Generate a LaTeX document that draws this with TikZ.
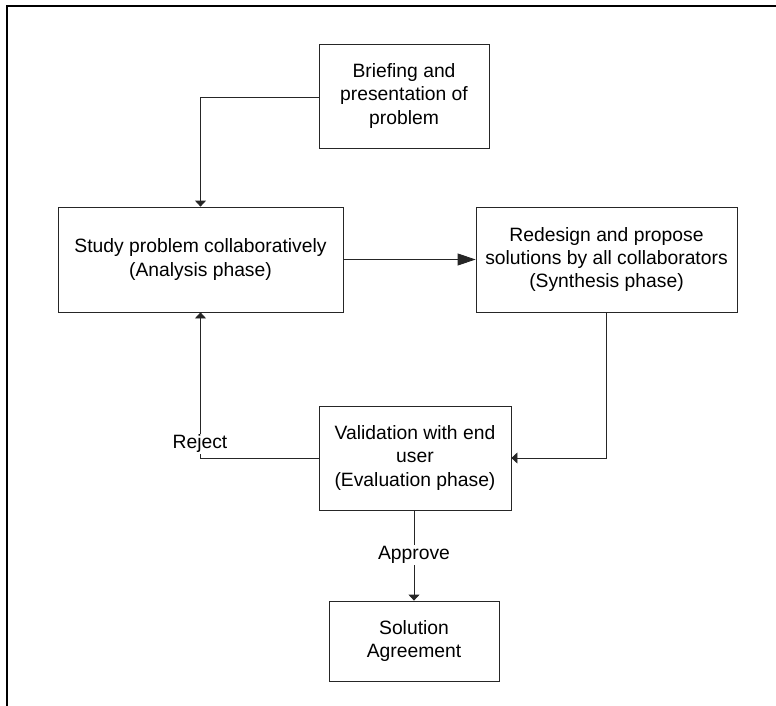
\documentclass[tikz,border=0pt]{standalone}
\usepackage{fontspec}
\setmainfont{Liberation Sans}
\usetikzlibrary{arrows.meta}
\begin{document}
\begin{tikzpicture}[x=1pt,y=-1pt,
  box/.style={draw=black!85,line width=0.8pt,rectangle,align=center,inner sep=0pt,
     font=\fontsize{19.3}{23.3}\selectfont},
  conn/.style={draw=black!85,line width=0.8pt},
  smallarrow/.style={conn,-{Triangle[length=6pt,width=11pt]}},
  bigarrow/.style={conn,-{Triangle[length=18pt,width=12pt]}},
  lbl/.style={fill=white,inner sep=1pt,font=\fontsize{19.3}{23.3}\selectfont}]
\useasboundingbox (0,0) rectangle (776,706);
\draw[line width=2pt] (6.5,706) -- (6.5,6.5) -- (776,6.5);
\node[box,minimum width=170pt,minimum height=104pt] (brief) at (404,96) {Briefing and\\presentation of\\problem};
\node[box,minimum width=285pt,minimum height=105pt] (study) at (200.5,259.5) {Study problem collaboratively\\(Analysis phase)};
\node[box,minimum width=261pt,minimum height=105pt] (redes) at (606.5,259.5) {Redesign and propose\\solutions by all collaborators\\(Synthesis phase)};
\node[box,minimum width=192pt,minimum height=104pt] (valid) at (415,458) {Validation with end\\user\\(Evaluation phase)};
\node[box,minimum width=170pt,minimum height=80pt] (sol) at (414,641) {Solution\\Agreement};
\coordinate (cb) at (200,97);
\draw[smallarrow] (brief.west |- cb) -| (study.north);
\draw[bigarrow] (study.east) -- (redes.west);
\draw[smallarrow] (redes.south) |- (valid.east);
\draw[smallarrow] (valid.west) -| (study.south);
\draw[smallarrow] (valid.south -| sol.north) -- (sol.north);
\node[lbl] (rej) at (200,444) {Reject};
\node[lbl] (appr) at (414,555) {Approve};
\end{tikzpicture}
\end{document}
